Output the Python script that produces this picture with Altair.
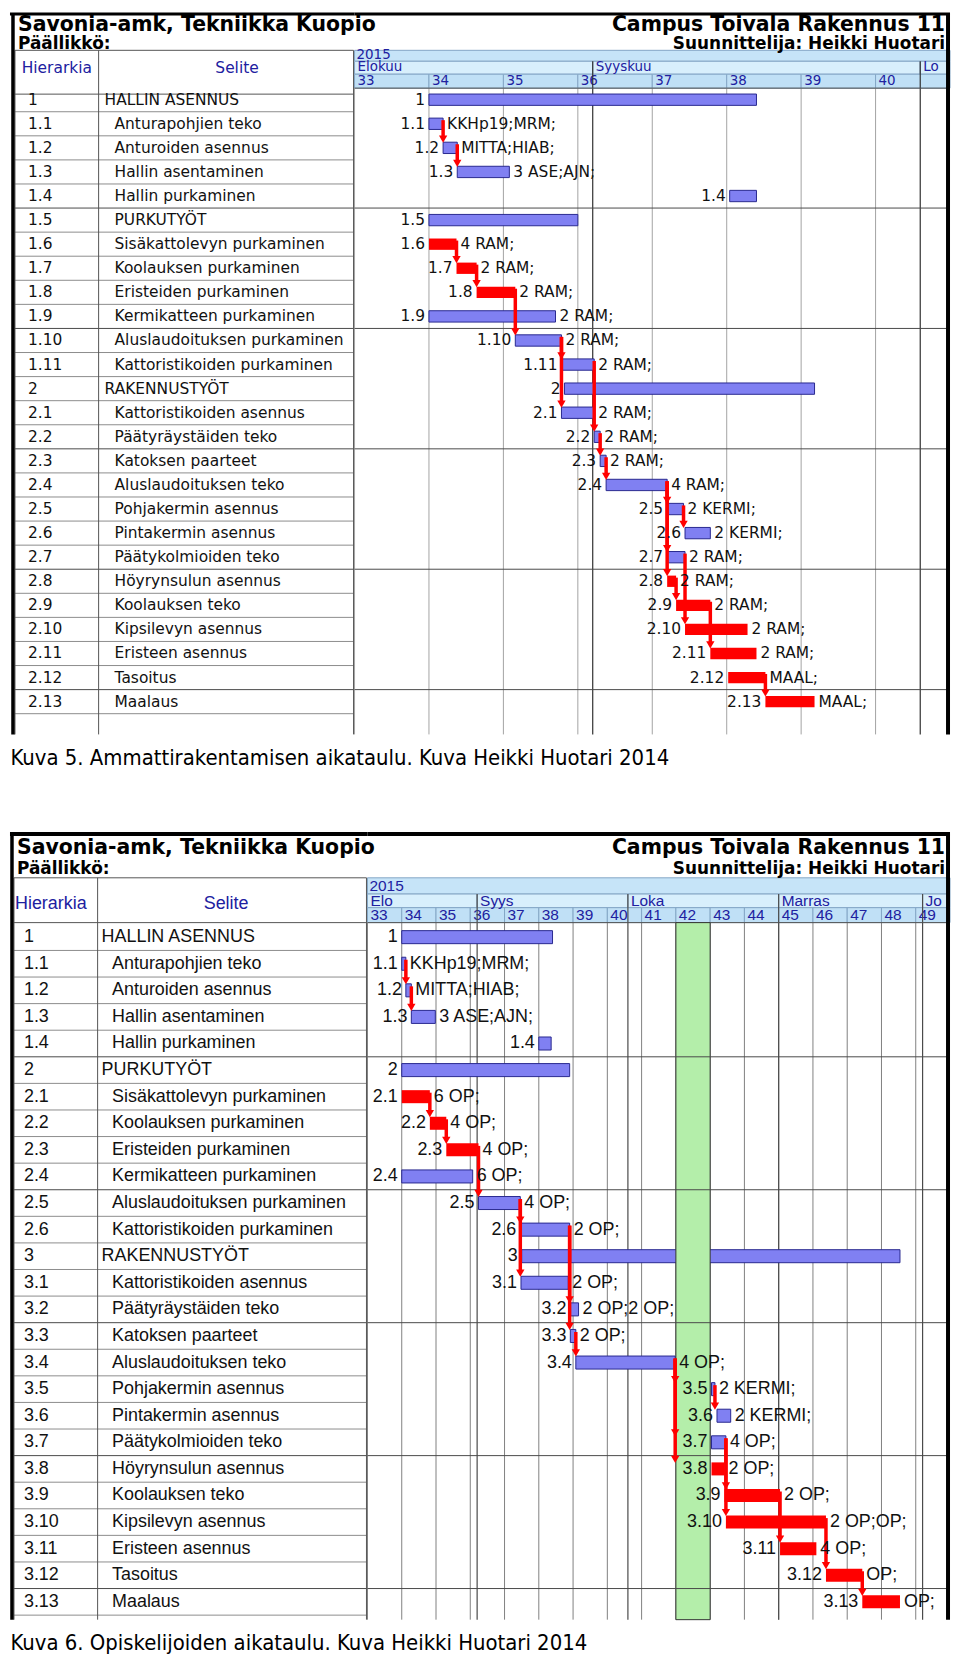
import altair as alt
import pandas as pd

# ---------------- Kuva 5: Ammattirakentamisen aikataulu ----------------
K5_ID = ["1", "1.1", "1.2", "1.3", "1.4", "1.5", "1.6", "1.7", "1.8", "1.9", "1.10", "1.11",
         "2", "2.1", "2.2", "2.3", "2.4", "2.5", "2.6", "2.7", "2.8", "2.9", "2.10", "2.11",
         "2.12", "2.13"]
K5_NAME = ["HALLIN ASENNUS", "Anturapohjien teko", "Anturoiden asennus", "Hallin asentaminen",
           "Hallin purkaminen", "PURKUTYÖT", "Sisäkattolevyn purkaminen", "Koolauksen purkaminen",
           "Eristeiden purkaminen", "Kermikatteen purkaminen", "Aluslaudoituksen purkaminen",
           "Kattoristikoiden purkaminen", "RAKENNUSTYÖT", "Kattoristikoiden asennus",
           "Päätyräystäiden teko", "Katoksen paarteet", "Aluslaudoituksen teko",
           "Pohjakermin asennus", "Pintakermin asennus", "Päätykolmioiden teko",
           "Höyrynsulun asennus", "Koolauksen teko", "Kipsilevyn asennus", "Eristeen asennus",
           "Tasoitus", "Maalaus"]
K5_LEVEL = [1, 2, 2, 2, 2, 2, 2, 2, 2, 2, 2, 2, 1, 2, 2, 2, 2, 2, 2, 2, 2, 2, 2, 2, 2, 2]
# working days from Monday of week 33 (5 days per week)
K5_START = [5, 5, 5.95, 6.9, 25.2, 5, 5, 6.85, 8.2, 5, 10.8, 13.9, 14.1, 13.9, 16.1, 16.5,
            16.9, 21.0, 22.2, 21.0, 21.0, 21.6, 22.2, 23.9, 25.1, 27.6]
K5_END = [27, 5.95, 6.9, 10.4, 27, 15, 6.85, 8.2, 10.8, 13.5, 13.9, 16.1, 30.9, 16.1, 16.5,
          16.9, 21.0, 22.1, 23.9, 22.2, 21.6, 23.9, 26.4, 27.0, 27.6, 30.9]
K5_CRIT = [0, 0, 0, 0, 0, 0, 1, 1, 1, 0, 0, 0, 0, 0, 0, 0, 0, 0, 0, 0, 1, 1, 1, 1, 1, 1]
K5_RES = ["", "KKHp19;MRM;", "MITTA;HIAB;", "3 ASE;AJN;", "", "", "4 RAM;", "2 RAM;",
          "2 RAM;", "2 RAM;", "2 RAM;", "2 RAM;", "", "2 RAM;", "2 RAM;", "2 RAM;", "4 RAM;",
          "2 KERMI;", "2 KERMI;", "2 RAM;", "2 RAM;", "2 RAM;", "2 RAM;", "2 RAM;", "MAAL;",
          "MAAL;"]
K5_LINK_FROM = ["1.1", "1.2", "1.6", "1.7", "1.8", "1.10", "1.10", "1.11", "2.2", "2.3",
                "2.4", "2.4", "2.4", "2.5", "2.7", "2.8", "2.9", "2.12"]
K5_LINK_TO = ["1.2", "1.3", "1.7", "1.8", "1.10", "1.11", "2.1", "2.2", "2.3", "2.4",
              "2.5", "2.7", "2.8", "2.6", "2.10", "2.9", "2.11", "2.13"]
K5_WEEKS = [33, 34, 35, 36, 37, 38, 39, 40]
K5_MONTHS = ["Elokuu", "Syyskuu", "Lo"]
K5_MONTH_START = [0, 16, 38]
K5_CAPTION = "Kuva 5. Ammattirakentamisen aikataulu. Kuva Heikki Huotari 2014"

# ---------------- Kuva 6: Opiskelijoiden aikataulu ----------------
K6_ID = ["1", "1.1", "1.2", "1.3", "1.4", "2", "2.1", "2.2", "2.3", "2.4", "2.5", "2.6",
         "3", "3.1", "3.2", "3.3", "3.4", "3.5", "3.6", "3.7", "3.8", "3.9", "3.10", "3.11",
         "3.12", "3.13"]
K6_NAME = ["HALLIN ASENNUS", "Anturapohjien teko", "Anturoiden asennus", "Hallin asentaminen",
           "Hallin purkaminen", "PURKUTYÖT", "Sisäkattolevyn purkaminen", "Koolauksen purkaminen",
           "Eristeiden purkaminen", "Kermikatteen purkaminen", "Aluslaudoituksen purkaminen",
           "Kattoristikoiden purkaminen", "RAKENNUSTYÖT", "Kattoristikoiden asennus",
           "Päätyräystäiden teko", "Katoksen paarteet", "Aluslaudoituksen teko",
           "Pohjakermin asennus", "Pintakermin asennus", "Päätykolmioiden teko",
           "Höyrynsulun asennus", "Koolauksen teko", "Kipsilevyn asennus", "Eristeen asennus",
           "Tasoitus", "Maalaus"]
K6_LEVEL = [1, 2, 2, 2, 2, 1, 2, 2, 2, 2, 2, 2, 1, 2, 2, 2, 2, 2, 2, 2, 2, 2, 2, 2, 2, 2]
K6_START = [5, 5, 5.6, 6.4, 25, 5, 5, 9.1, 11.5, 5, 16.2, 22.3, 22.5, 22.4, 29.6, 29.6,
            30.4, 50.2, 51.0, 50.2, 50.2, 52.1, 52.3, 60.2, 66.9, 72.2]
K6_END = [27, 5.6, 6.4, 9.9, 26.8, 29.5, 9.1, 11.5, 16.2, 15.35, 22.3, 29.5, 77.7, 29.3,
          30.8, 30.4, 44.9, 50.7, 53.0, 52.3, 52.1, 60.2, 66.9, 65.5, 72.2, 77.7]
K6_CRIT = [0, 0, 0, 0, 0, 0, 1, 1, 1, 0, 0, 0, 0, 0, 0, 0, 0, 0, 0, 0, 1, 1, 1, 1, 1, 1]
K6_RES = ["", "KKHp19;MRM;", "MITTA;HIAB;", "3 ASE;AJN;", "", "", "6 OP;", "4 OP;", "4 OP;",
          "6 OP;", "4 OP;", "2 OP;", "", "2 OP;", "2 OP;2 OP;", "2 OP;", "4 OP;", "2 KERMI;",
          "2 KERMI;", "4 OP;", "2 OP;", "2 OP;", "2 OP;OP;", "4 OP;", "OP;", "OP;"]
K6_LINK_FROM = ["1.1", "1.2", "2.1", "2.2", "2.3", "2.5", "2.5", "2.6", "2.6", "3.3", "3.4",
                "3.4", "3.4", "3.5", "3.7", "3.7", "3.9", "3.10", "3.12"]
K6_LINK_TO = ["1.2", "1.3", "2.2", "2.3", "2.5", "2.6", "3.1", "3.2", "3.3", "3.4", "3.5",
              "3.7", "3.8", "3.6", "3.9", "3.10", "3.11", "3.12", "3.13"]
K6_WEEKS = list(range(33, 50))
K6_MONTHS = ["Elo", "Syys", "Loka", "Marras", "Jo"]
K6_MONTH_START = [0, 16, 38, 60, 81]
K6_HOLIDAY_WEEK = [42]
K6_CAPTION = "Kuva 6. Opiskelijoiden aikataulu. Kuva Heikki Huotari 2014"

TITLE_L = "Savonia-amk, Tekniikka Kuopio"
TITLE_L2 = "Päällikkö:"
TITLE_R = "Campus Toivala Rakennus 11"
TITLE_R2 = "Suunnittelija: Heikki Huotari"

# ---------------- styles / layout ----------------
NAVY = "#2020a0"
BLUE = "#8080f2"
BLUE_EDGE = "#28288f"
RED = "#ff0000"
HDR_YEAR = "#c6e4f8"
HDR_MON = "#d8effc"
HDR_WEEK = "#c0e0f6"
HDR_LINE = "#84a6c6"
TITLE_FONT = "DejaVu Sans"
CAP_FONT = "DejaVu Sans Condensed, DejaVu Sans"

F5 = dict(top=8, bottom=800, y0=95.6, dy=24.18, split=354,
          hdr_top=46, yr_mid=50.5, mon_top=57, mon_mid=62.5, wk_top=70, wk_mid=76.5,
          body_top=84, tbl_hdr_bot=90, tbl_hdr_mid=64, tbl_bottom=733,
          frame_top=9.5, frame_w=3, title_x=16, title_y=20.5, sub_y=40, caption_y=757,
          cols=[13, 97, 353], id_x=26, name_x={1: 103, 2: 113}, hier_cx=55, selite_cx=236,
          frame_left=11, font="DejaVu Sans", fs=15.5, hfs=13.5, bar_half=0.235,
          grid="#a3a3a3", month_line="#303030", row_line="#8c8c8c", grp_line="#4a4a4a")
F6 = dict(top=800, bottom=1653, y0=936.6, dy=26.7, split=367,
          hdr_top=877, yr_mid=884.8, mon_top=893.3, mon_mid=900.3, wk_top=907, wk_mid=914.8,
          body_top=922, tbl_hdr_bot=922, tbl_hdr_mid=903.5, tbl_bottom=1622,
          frame_top=833, frame_w=4, title_x=15, title_y=847, sub_y=868.5, caption_y=1645,
          cols=[12, 96, 366], id_x=22, name_x={1: 100, 2: 110.5}, hier_cx=49, selite_cx=225,
          frame_left=10, font="Liberation Sans, Arial", fs=18, hfs=15.5, bar_half=0.245,
          grid="#808080", month_line="#4a4a4a", row_line="#8c8c8c", grp_line="#4a4a4a")
RIGHT_EDGE = 952
TITLE_SIZE = 20.5
SUB_SIZE = 17


def df1(**kw):
    return pd.DataFrame({k: [v] for k, v in kw.items()})


def build(F, ids, names, levels, starts, ends, crit, res, lfrom, lto, weeks, months,
          mstarts, caption, holiday=()):
    n = len(ids)
    ndays = (weeks[-1] - weeks[0] + 1) * 5

    def rr(p):
        return (p - F["y0"]) / F["dy"]

    ysc = alt.Scale(domain=[rr(F["top"]), rr(F["bottom"])], reverse=True, nice=False, zero=False)
    xsc = alt.Scale(domain=[0, ndays], nice=False, zero=False)

    def Y(f):
        return alt.Y(f + ":Q", scale=ysc, axis=None)

    def Y2(f):
        return alt.Y2(f + ":Q")

    def X(f):
        return alt.X(f + ":Q", scale=xsc, axis=None)

    def X2(f):
        return alt.X2(f + ":Q")

    H = F["bottom"] - F["top"]
    WL = F["split"] - 8
    WR = RIGHT_EDGE - F["split"]

    def lx(p):
        return p - 8

    rows = pd.DataFrame({"r": list(range(n)), "id": ids, "name": names, "level": levels,
                         "s": starts, "e": ends, "c": crit, "res": res})

    # ---------------- left (table) panel ----------------
    L = []
    rl = pd.DataFrame({"y": [k + 0.5 for k in range(n)],
                       "g": [1 if (k + 1) % 5 == 0 else 0 for k in range(n)]})
    x0, x1 = lx(F["cols"][0]), lx(F["cols"][2])
    L.append(alt.Chart(rl).transform_filter("datum.g == 0").mark_rule(
        color=F["row_line"], strokeWidth=1).encode(x=alt.value(x0), x2=alt.value(x1), y=Y("y")))
    L.append(alt.Chart(rl).transform_filter("datum.g == 1").mark_rule(
        color=F["grp_line"], strokeWidth=1).encode(x=alt.value(x0), x2=alt.value(x1), y=Y("y")))
    hl = pd.DataFrame({"y": [rr(F["hdr_top"]), rr(F["tbl_hdr_bot"])]})
    L.append(alt.Chart(hl).mark_rule(color="#555555", strokeWidth=1).encode(
        x=alt.value(x0), x2=alt.value(x1), y=Y("y")))
    for c in F["cols"]:
        L.append(alt.Chart(df1(y0=rr(F["hdr_top"]), y1=rr(F["tbl_bottom"]))).mark_rule(
            color="#555555", strokeWidth=1).encode(x=alt.value(lx(c)), y=Y("y0"), y2=Y2("y1")))
    for txt, cx in (("Hierarkia", F["hier_cx"]), ("Selite", F["selite_cx"])):
        L.append(alt.Chart(df1(r=rr(F["tbl_hdr_mid"]), t=txt)).mark_text(
            align="center", baseline="middle", font=F["font"], fontSize=F["fs"], color=NAVY
        ).encode(x=alt.value(lx(cx)), y=Y("r"), text="t:N"))
    L.append(alt.Chart(rows).mark_text(align="left", baseline="middle", font=F["font"],
                                       fontSize=F["fs"], color="#111111").encode(
        x=alt.value(lx(F["id_x"])), y=Y("r"), text="id:N"))
    for lev in (1, 2):
        L.append(alt.Chart(rows).transform_filter(f"datum.level == {lev}").mark_text(
            align="left", baseline="middle", font=F["font"], fontSize=F["fs"], color="#111111"
        ).encode(x=alt.value(lx(F["name_x"][lev])), y=Y("r"), text="name:N"))
    L.append(alt.Chart(df1(r=rr(F["title_y"]), t=TITLE_L)).mark_text(
        align="left", baseline="middle", font=TITLE_FONT, fontSize=TITLE_SIZE, fontWeight="bold",
        color="#000000").encode(x=alt.value(lx(F["title_x"])), y=Y("r"), text="t:N"))
    L.append(alt.Chart(df1(r=rr(F["sub_y"]), t=TITLE_L2)).mark_text(
        align="left", baseline="middle", font=TITLE_FONT, fontSize=SUB_SIZE, fontWeight="bold",
        color="#000000").encode(x=alt.value(lx(F["title_x"])), y=Y("r"), text="t:N"))
    # frame
    L.append(alt.Chart(df1(y=rr(F["frame_top"]))).mark_rule(
        color="#000000", strokeWidth=F["frame_w"]).encode(
        x=alt.value(0), x2=alt.value(WL), y=Y("y")))
    L.append(alt.Chart(df1(y0=rr(F["frame_top"]), y1=rr(F["tbl_bottom"]))).mark_rule(
        color="#000000", strokeWidth=3.5).encode(
        x=alt.value(lx(F["frame_left"])), y=Y("y0"), y2=Y2("y1")))
    # caption
    L.append(alt.Chart(df1(r=rr(F["caption_y"]), t=caption)).mark_text(
        align="left", baseline="middle", font=CAP_FONT, fontSize=22, color="#000000").encode(
        x=alt.value(0.5), y=Y("r"), text="t:N"))
    left = alt.layer(*L).properties(width=WL, height=H)

    # ---------------- right (gantt) panel ----------------
    G = []
    G.append(alt.Chart(df1(a=0, b=ndays, y0=rr(F["hdr_top"]), y1=rr(F["mon_top"]))).mark_rect(
        color=HDR_YEAR, stroke=HDR_LINE, strokeWidth=1).encode(
        x=X("a"), x2=X2("b"), y=Y("y0"), y2=Y2("y1")))
    mo = pd.DataFrame({"m": months, "a": mstarts, "b": mstarts[1:] + [ndays]})
    mo["y0"], mo["y1"], mo["ym"] = rr(F["mon_top"]), rr(F["wk_top"]), rr(F["mon_mid"])
    G.append(alt.Chart(mo).mark_rect(color=HDR_MON, stroke=HDR_LINE, strokeWidth=1).encode(
        x=X("a"), x2=X2("b"), y=Y("y0"), y2=Y2("y1")))
    wk = pd.DataFrame({"w": [str(w) for w in weeks]})
    wk["a"] = [(w - weeks[0]) * 5 for w in weeks]
    wk["b"] = wk["a"] + 5
    wk["y0"], wk["y1"], wk["ym"] = rr(F["wk_top"]), rr(F["body_top"]), rr(F["wk_mid"])
    wk["yb"] = rr(F["tbl_bottom"])
    G.append(alt.Chart(wk).mark_rect(color=HDR_WEEK, stroke=HDR_LINE, strokeWidth=1).encode(
        x=X("a"), x2=X2("b"), y=Y("y0"), y2=Y2("y1")))
    G.append(alt.Chart(df1(a=0, r=rr(F["yr_mid"]), t="2015")).mark_text(
        align="left", baseline="middle", dx=2, font=F["font"], fontSize=F["hfs"], color=NAVY
    ).encode(x=X("a"), y=Y("r"), text="t:N"))
    G.append(alt.Chart(mo).mark_text(align="left", baseline="middle", dx=3, font=F["font"],
                                     fontSize=F["hfs"], color=NAVY).encode(
        x=X("a"), y=Y("ym"), text="m:N"))
    G.append(alt.Chart(wk).mark_text(align="left", baseline="middle", dx=3, font=F["font"],
                                     fontSize=F["hfs"], color=NAVY).encode(
        x=X("a"), y=Y("ym"), text="w:N"))
    # body grid
    G.append(alt.Chart(wk).mark_rule(color=F["grid"], strokeWidth=1).encode(
        x=X("a"), y=Y("y1"), y2=Y2("yb")))
    ml = mo.iloc[1:].copy()
    ml["yb"] = rr(F["tbl_bottom"])
    G.append(alt.Chart(ml).mark_rule(color=F["month_line"], strokeWidth=1.2).encode(
        x=X("a"), y=Y("y0"), y2=Y2("yb")))
    G.append(alt.Chart(df1(a=0, b=ndays, y=rr(F["body_top"]))).mark_rule(
        color="#555555", strokeWidth=1).encode(x=X("a"), x2=X2("b"), y=Y("y")))
    # bars
    h = F["bar_half"]
    bars = alt.Chart(rows).transform_calculate(
        y0=f"datum.r - {h}", y1=f"datum.r + {h}")
    G.append(bars.transform_filter("datum.c == 0").mark_rect(
        color=BLUE, stroke=BLUE_EDGE, strokeWidth=1).encode(
        x=X("s"), x2=X2("e"), y=Y("y0"), y2=Y2("y1")))
    G.append(bars.transform_filter("datum.c == 1").mark_rect(color=RED).encode(
        x=X("s"), x2=X2("e"), y=Y("y0"), y2=Y2("y1")))
    # holiday week
    if holiday:
        hd = pd.DataFrame({"w": holiday})
        hd["a"] = [(w - weeks[0]) * 5 for w in holiday]
        hd["b"] = hd["a"] + 5
        hd["y0"], hd["y1"] = rr(F["body_top"]), rr(F["tbl_bottom"])
        G.append(alt.Chart(hd).mark_rect(color="#b4eeaa", stroke="#333333", strokeWidth=1).encode(
            x=X("a"), x2=X2("b"), y=Y("y0"), y2=Y2("y1")))
    # group lines
    gl = pd.DataFrame({"y": [k + 0.5 for k in range(n) if (k + 1) % 5 == 0]})
    gl["a"], gl["b"] = 0, ndays
    G.append(alt.Chart(gl).mark_rule(color=F["grp_line"], strokeWidth=1).encode(
        x=X("a"), x2=X2("b"), y=Y("y")))
    # dependency arrows
    idx = {k: i for i, k in enumerate(ids)}
    lk = pd.DataFrame({"f": lfrom, "t": lto})
    lk["x"] = [ends[idx[a]] for a in lfrom]
    lk["r0"] = [idx[a] for a in lfrom]
    lk["r1"] = [idx[b] for b in lto]
    arr = alt.Chart(lk).transform_calculate(
        ya="datum.r0 - 0.15", yb="datum.r1 - 0.40", yt="datum.r1 - 0.36")
    G.append(arr.mark_rule(color=RED, strokeWidth=3.5).encode(
        x=X("x"), y=Y("ya"), y2=Y2("yb")))
    G.append(arr.mark_point(shape="triangle-down", filled=True, color=RED, opacity=1,
                            size=70).encode(x=X("x"), y=Y("yt")))
    # labels
    G.append(alt.Chart(rows).mark_text(align="right", baseline="middle", dx=-4,
                                       font=F["font"], fontSize=F["fs"], color="#111111").encode(
        x=X("s"), y=Y("r"), text="id:N"))
    G.append(alt.Chart(rows).transform_filter("datum.res != ''").mark_text(
        align="left", baseline="middle", dx=4, font=F["font"], fontSize=F["fs"],
        color="#111111").encode(x=X("e"), y=Y("r"), text="res:N"))
    # frame and titles
    G.append(alt.Chart(df1(y=rr(F["frame_top"]))).mark_rule(
        color="#000000", strokeWidth=F["frame_w"]).encode(
        x=alt.value(0), x2=alt.value(WR), y=Y("y")))
    G.append(alt.Chart(df1(y0=rr(F["frame_top"]), y1=rr(F["tbl_bottom"]))).mark_rule(
        color="#000000", strokeWidth=4).encode(x=alt.value(WR - 2), y=Y("y0"), y2=Y2("y1")))
    G.append(alt.Chart(df1(r=rr(F["title_y"]), t=TITLE_R)).mark_text(
        align="right", baseline="middle", font=TITLE_FONT, fontSize=TITLE_SIZE, fontWeight="bold",
        color="#000000").encode(x=alt.value(WR - 5), y=Y("r"), text="t:N"))
    G.append(alt.Chart(df1(r=rr(F["sub_y"]), t=TITLE_R2)).mark_text(
        align="right", baseline="middle", font=TITLE_FONT, fontSize=SUB_SIZE, fontWeight="bold",
        color="#000000").encode(x=alt.value(WR - 5), y=Y("r"), text="t:N"))
    right = alt.layer(*G).properties(width=WR, height=H)

    return alt.hconcat(left, right, spacing=0, bounds="flush")


fig5 = build(F5, K5_ID, K5_NAME, K5_LEVEL, K5_START, K5_END, K5_CRIT, K5_RES, K5_LINK_FROM,
             K5_LINK_TO, K5_WEEKS, K5_MONTHS, K5_MONTH_START, K5_CAPTION)
fig6 = build(F6, K6_ID, K6_NAME, K6_LEVEL, K6_START, K6_END, K6_CRIT, K6_RES, K6_LINK_FROM,
             K6_LINK_TO, K6_WEEKS, K6_MONTHS, K6_MONTH_START, K6_CAPTION, K6_HOLIDAY_WEEK)

chart = alt.vconcat(fig5, fig6, spacing=0).properties(
    padding=0, background="#ffffff").configure_view(stroke=None)

chart.save("out.html", embed_options={"renderer": "svg", "actions": False})
